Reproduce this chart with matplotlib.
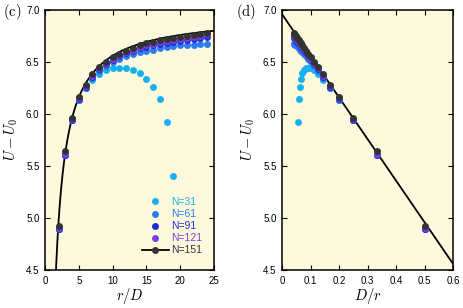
import numpy as np
import matplotlib
matplotlib.use('Agg')
import matplotlib.pyplot as plt
from matplotlib.lines import Line2D
from matplotlib.ticker import FuncFormatter

plt.rcParams['font.family'] = ['Liberation Sans', 'DejaVu Sans']
plt.rcParams['mathtext.fontset'] = 'cm'

# r/D values of the simulations
r_D = list(range(2, 25))
r_D_31 = list(range(2, 20))

# U - U0 for each system size
u_31 = [4.89, 5.61, 5.94, 6.13, 6.25, 6.33, 6.38, 6.42, 6.44, 6.44, 6.44, 6.42,
        6.39, 6.34, 6.26, 6.14, 5.92, 5.40]
u_61 = [4.89, 5.61, 5.94, 6.13, 6.25, 6.35, 6.41, 6.46, 6.50, 6.53, 6.56, 6.58,
        6.60, 6.61, 6.62, 6.63, 6.64, 6.65, 6.66, 6.66, 6.665, 6.67, 6.67]
u_91 = [4.89, 5.61, 5.94, 6.14, 6.26, 6.36, 6.43, 6.48, 6.52, 6.56, 6.59, 6.61,
        6.63, 6.645, 6.66, 6.67, 6.68, 6.69, 6.70, 6.71, 6.72, 6.73, 6.74]
u_121 = [4.90, 5.62, 5.95, 6.15, 6.27, 6.37, 6.44, 6.49, 6.53, 6.57, 6.60, 6.62,
         6.64, 6.66, 6.67, 6.69, 6.70, 6.71, 6.72, 6.73, 6.74, 6.75, 6.765]
u_151 = [4.92, 5.64, 5.96, 6.16, 6.28, 6.38, 6.45, 6.50, 6.55, 6.58, 6.61, 6.63,
         6.66, 6.68, 6.69, 6.71, 6.72, 6.73, 6.74, 6.75, 6.76, 6.77, 6.78]

labels = ['N=31', 'N=61', 'N=91', 'N=121', 'N=151']
colors = ['#19b0f0', '#2b7cf2', '#1b30d8', '#7b3de0', '#333333']

# linear fit U - U0 = a - b D/r
fit_a = 6.96
fit_b = 4.0

bg = '#fdf9dc'

fig = plt.figure(figsize=(4.63, 3.08), dpi=100)
ax1 = fig.add_axes([45/463, 1-270/308, 169/463, 260/308])
ax2 = fig.add_axes([282/463, 1-270/308, 171/463, 260/308])

series = [(r_D_31, u_31), (r_D, u_61), (r_D, u_91), (r_D, u_121), (r_D, u_151)]

for ax in (ax1, ax2):
    ax.set_facecolor(bg)
    ax.tick_params(direction='in', top=True, right=True, labelsize=7,
                   length=3.5, width=0.8, pad=4)
    for s in ax.spines.values():
        s.set_linewidth(1.1)
    ax.set_ylim(4.5, 7.0)
    ax.set_yticks([4.5, 5.0, 5.5, 6.0, 6.5, 7.0])
    ax.set_ylabel(r'$U - U_0$', fontsize=10.5, labelpad=4)

# (c) U vs r/D
x_fit = np.linspace(1.5, 25, 300)
ax1.plot(x_fit, fit_a - fit_b / x_fit, color='black', lw=1.3, zorder=2)
for (x, y), c in zip(series, colors):
    ax1.plot(x, y, 'o', color=c, ms=5, mec='none', zorder=3)
ax1.set_xlim(0, 25)
ax1.set_xticks([0, 5, 10, 15, 20, 25])
ax1.set_xlabel(r'$r/D$', fontsize=10.5, labelpad=0)

handles = [Line2D([], [], ls='none', marker='o', color=c, ms=5, mec='none')
           for c in colors[:-1]]
handles.append(Line2D([], [], ls='-', lw=1.3, color='black', marker='o',
                      mfc=colors[-1], mec='none', ms=5))
leg = ax1.legend(handles, labels, loc='lower right', bbox_to_anchor=(0.985, 0.02),
                 frameon=False, fontsize=7.5, handlelength=2.6,
                 handletextpad=0.2, labelspacing=0.2)
for t, c in zip(leg.get_texts(), colors):
    t.set_color(c)

# (d) U vs D/r
ax2.plot([0, 0.6], [fit_a, fit_a - fit_b * 0.6], color='black', lw=1.3, zorder=2)
for (x, y), c in zip(series, colors):
    x = np.array(x[:len(y)])
    if c == colors[0]:
        x, y = x[:-1], y[:-1]
    ax2.plot(1.0 / x, y, 'o', color=c, ms=5, mec='none', zorder=3)
ax2.set_xlim(0, 0.6)
ax2.set_xticks([0, 0.1, 0.2, 0.3, 0.4, 0.5, 0.6])
ax2.xaxis.set_major_formatter(FuncFormatter(lambda v, p: '0' if v == 0 else '%.1f' % v))
ax2.set_xlabel(r'$D/r$', fontsize=10.5, labelpad=0)

fig.text(3/463, 1-16/308, r'$\mathrm{(c)}$', fontsize=10.5)
fig.text(236/463, 1-16/308, r'$\mathrm{(d)}$', fontsize=10.5)

fig.savefig('out.png', dpi=100)
